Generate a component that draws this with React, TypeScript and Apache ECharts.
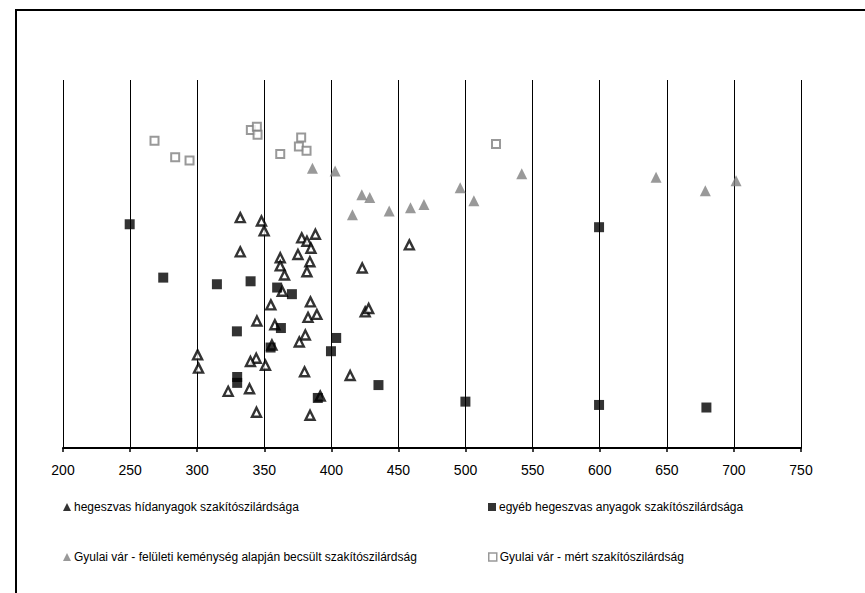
import React, { useEffect, useRef } from "react";
import * as echarts from "echarts";

const xTicks = [200, 250, 300, 350, 400, 450, 500, 550, 600, 650, 700, 750];

const seriesNames = [
  "hegeszvas hídanyagok szakítószilárdsága",
  "egyéb hegeszvas anyagok szakítószilárdsága",
  "Gyulai vár - felületi keménység alapján becsült szakítószilárdság",
  "Gyulai vár - mért szakítószilárdság",
];

// hegeszvas hídanyagok (x = strength, y = arbitrary vertical position)
const bridgeX = [332.1, 347.9, 349.9, 332.1, 361.9, 361.9, 365.1, 363.4, 354.9, 375.1, 377.9, 381.8, 388.1, 384.8, 384.0, 381.8, 384.4, 382.6, 389.2, 344.5, 357.9, 380.6, 376.1, 355.7, 300.3, 301.0, 344.0, 339.7, 350.9, 380.0, 414.0, 323.1, 339.0, 344.2, 384.1, 391.7, 423.0, 458.1, 425.2, 427.8];
const bridgeY = [62.6, 61.7, 59.0, 53.3, 51.7, 49.5, 47.0, 42.6, 38.9, 52.6, 57.1, 56.2, 58.1, 54.3, 50.6, 47.9, 39.7, 35.5, 36.3, 34.5, 33.5, 30.7, 28.8, 28.0, 25.3, 21.7, 24.4, 23.5, 22.5, 20.7, 19.7, 15.4, 16.1, 9.7, 8.9, 14.1, 48.9, 55.2, 37.0, 37.9];

// egyéb hegeszvas anyagok
const otherX = [249.7, 274.7, 314.7, 339.8, 359.6, 370.6, 329.6, 362.4, 354.7, 403.6, 399.7, 329.8, 329.8, 435.1, 389.9, 499.9, 599.5, 599.5, 679.5];
const otherY = [60.8, 46.3, 44.5, 45.3, 43.6, 41.8, 31.7, 32.6, 27.3, 29.9, 26.3, 19.3, 17.7, 17.1, 13.6, 12.6, 60.0, 11.7, 11.0];

// Gyulai vár - becsült
const estX = [385.9, 402.8, 422.7, 428.6, 415.7, 443.1, 459.0, 469.0, 496.0, 506.2, 541.9, 642.0, 678.7, 701.6];
const estY = [76.0, 75.3, 68.8, 68.1, 63.4, 64.4, 65.3, 66.2, 70.7, 67.2, 74.5, 73.6, 69.9, 72.6];

// Gyulai vár - mért
const measX = [268.2, 283.6, 294.3, 340.0, 344.5, 345.0, 361.9, 377.5, 375.8, 381.5, 522.7];
const measY = [83.5, 79.0, 78.1, 86.4, 87.3, 85.1, 79.9, 84.4, 81.9, 80.8, 82.6];

const zip = (xs: number[], ys: number[]) => xs.map((x, i) => [x, ys[i]]);

const FONT = "'Liberation Sans', Arial, sans-serif";

export default function App() {
  const ref = useRef<HTMLDivElement>(null);
  useEffect(() => {
    document.body.style.margin = "0";
    const chart = echarts.init(ref.current!, null, { renderer: "svg" });
    const styles = [
      { symbol: "triangle", symbolSize: 9, itemStyle: { color: "#fff", borderColor: "#000", borderWidth: 2.4 } },
      { symbol: "rect", symbolSize: 10, itemStyle: { color: "#000", borderWidth: 0 } },
      { symbol: "triangle", symbolSize: 11, itemStyle: { color: "#808080", borderWidth: 0 } },
      { symbol: "rect", symbolSize: 8, itemStyle: { color: "#fff", borderColor: "#808080", borderWidth: 2 } },
    ];
    const datas = [zip(bridgeX, bridgeY), zip(otherX, otherY), zip(estX, estY), zip(measX, measY)];
    const legendPos = [
      { left: 63, top: 501 },
      { left: 488, top: 501 },
      { left: 63, top: 551 },
      { left: 488, top: 551 },
    ];
    const legendIcon = [
      { icon: "triangle", itemStyle: { color: "#000", borderColor: "#000", borderWidth: 0 } },
      { icon: "rect", itemStyle: { color: "#000", borderWidth: 0 } },
      { icon: "triangle", itemStyle: { color: "#808080", borderWidth: 0 } },
      { icon: "rect", itemStyle: { color: "#fff", borderColor: "#808080", borderWidth: 1.5 } },
    ];
    chart.setOption({
      animation: false,
      backgroundColor: "#fff",
      textStyle: { fontFamily: FONT },
      graphic: [
        {
          type: "rect",
          shape: { x: 16, y: 10, width: 900, height: 700 },
          style: { fill: "none", stroke: "#000", lineWidth: 2 },
          silent: true,
        },
      ],
      grid: { left: 63, right: 64, top: 80, bottom: 145, containLabel: false },
      xAxis: {
        type: "value",
        min: xTicks[0],
        max: xTicks[xTicks.length - 1],
        interval: 50,
        axisLine: { show: true, lineStyle: { color: "#000", width: 2 } },
        axisTick: { show: true, length: 4, lineStyle: { color: "#000", width: 1.5 } },
        axisLabel: { color: "#000", fontSize: 14, fontFamily: FONT, margin: 15 },
        splitLine: { show: true, lineStyle: { color: "#000", width: 1 } },
      },
      yAxis: {
        type: "value",
        min: 0,
        max: 100,
        show: false,
        splitLine: { show: false },
      },
      legend: seriesNames.map((n, i) => ({
        data: [{ name: n, ...legendIcon[i] }],
        left: legendPos[i].left,
        top: legendPos[i].top,
        padding: 0,
        itemWidth: 8,
        itemHeight: 8,
        itemGap: 0,
        textStyle: { color: "#000", fontSize: 12, fontFamily: FONT, padding: [0, 0, 0, -2] },
        selectedMode: false,
      })),
      series: seriesNames.map((n, i) => ({
        name: n,
        type: "scatter",
        data: datas[i],
        symbol: styles[i].symbol,
        symbolSize: styles[i].symbolSize,
        itemStyle: styles[i].itemStyle,
        z: i === 1 ? 3 : 2,
      })),
    });
    return () => chart.dispose();
  }, []);
  return <div ref={ref} style={{ width: 865, height: 593 }} />;
}
